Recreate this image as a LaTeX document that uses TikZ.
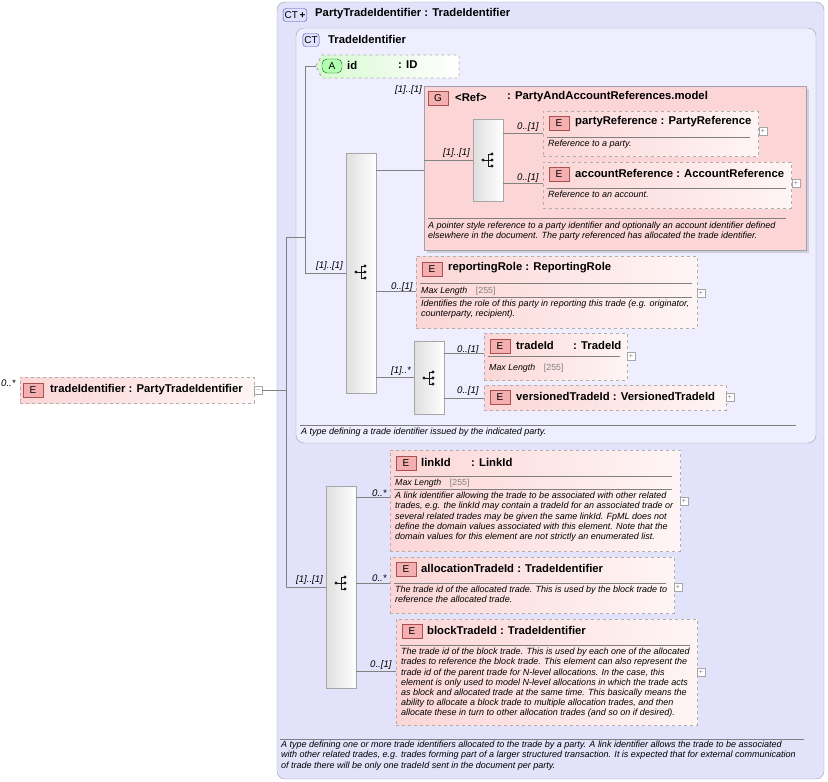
\documentclass[tikz,border=0pt]{standalone}
\usepackage{fontspec}
\setmainfont{Liberation Sans}
\usetikzlibrary{positioning,shadows}

\definecolor{ctfill}{RGB}{226,226,250}
\definecolor{ctline}{RGB}{160,160,175}
\definecolor{elpink}{RGB}{252,214,214}
\definecolor{badgefill}{RGB}{244,176,176}
\definecolor{badgeline}{RGB}{170,80,80}
\definecolor{attgreen}{RGB}{214,250,208}
\definecolor{dashgray}{RGB}{175,175,175}
\definecolor{wire}{RGB}{130,130,130}

\tikzset{
  ct/.style={draw=ctline, fill=ctfill, rounded corners=8pt},
  elem/.style={draw=dashgray, dashed, line width=0.9pt, left color=elpink, right color=elpink!25, anchor=north west, inner sep=0pt},
  grp/.style={draw=ctline, fill=elpink, anchor=north west, inner sep=0pt, drop shadow={shadow xshift=2.5pt, shadow yshift=-2.5pt, fill=gray!60}},
  seq/.style={draw=gray!70, left color=gray!25, right color=white, anchor=north west, inner sep=0pt, minimum width=30pt},
  badge/.style={draw=badgeline, fill=badgefill, minimum width=20pt, minimum height=14pt, inner sep=0pt, font=\fontsize{10}{10}\selectfont},
  ctbadge/.style={draw=gray!60!blue, fill=blue!12, rounded corners=3pt, minimum height=13pt, inner sep=1.5pt, font=\fontsize{10}{10}\selectfont},
  title/.style={anchor=west, inner sep=0pt, font=\fontsize{11.3}{12}\selectfont\bfseries},
  desc/.style={anchor=north west, inner sep=0pt, align=left, font=\fontsize{9}{10.2}\selectfont\itshape},
  mult/.style={anchor=west, inner sep=0pt, font=\fontsize{9.6}{10}\selectfont\itshape},
  maxl/.style={anchor=west, inner sep=0pt, font=\fontsize{8.8}{10}\selectfont\itshape},
  plus/.style={draw=gray!70, fill=white, minimum size=8pt, inner sep=0pt, font=\fontsize{7}{7}\selectfont, text=gray},
  conn/.style={draw=wire, line width=0.6pt},
  sep/.style={draw=gray, line width=0.5pt},
}
\newcommand{\seqicon}[2]{%
  \fill[gray!20!black] (#1-5,#2) circle (1.6pt);
  \draw[gray!20!black, line width=0.7pt] (#1-5,#2) -- (#1,#2) (#1,#2-6) -- (#1,#2+6) (#1,#2-6) -- (#1+4,#2-6) (#1,#2) -- (#1+4,#2) (#1,#2+6) -- (#1+4,#2+6);
  \fill[gray!20!black] (#1+4,#2-6) circle (1.6pt) (#1+4,#2) circle (1.6pt) (#1+4,#2+6) circle (1.6pt);}

\begin{document}
\begin{tikzpicture}[x=1pt,y=1pt,yscale=-1]
\useasboundingbox (0,0) rectangle (828,782);

% complex types
\path[ct] (277,2) rectangle (824,779);
\node[ctbadge] (ctouter) at (295,15) {CT\,\textbf{+}};
\node[title] (ptitle) at (315,14) {PartyTradeIdentifier : TradeIdentifier};
\path[ct, fill=ctfill!70!blue!18] (296,28) rectangle (816,443);
\node[ctbadge] (ctinner) at (311,40) {CT};
\node[title] (ttitle) at (328,39) {TradeIdentifier};

% root element
\node[mult] (rootm) at (1,383) {0..*};
\node[elem, minimum width=234pt, minimum height=26pt] (root) at (20,377) {};
\node[badge] (rootb) at (33,390) {E};
\node[title] (roott) at (50,390) {tradeIdentifier : PartyTradeIdentifier};
\node[plus] (rootp) at (258,390) {$-$};

% attribute
\path[draw=dashgray, dashed, line width=0.9pt, left color=attgreen, right color=white]
  (316,66) -- (322,55) -- (459,55) -- (459,78) -- (322,78) -- cycle;
\node[badge, draw=green!40!black, fill=green!30, rounded corners=5pt] (attb) at (332,66) {A};
\node[title] (attn) at (347,65) {id};
\node[title] (attt) at (398,65) {: ID};

% sequences
\node[seq, minimum height=240pt] (seqA) at (346,153) {};
\node[seq, minimum height=73pt] (seqC) at (414,341) {};
\node[seq, minimum height=202pt] (seqD) at (326,486) {};
\seqicon{361}{272}
\seqicon{429}{378}
\seqicon{341}{583}

% group
\node[grp, minimum width=382pt, minimum height=164pt] (grp) at (424,86) {};
\node[mult] at (395,90) {[1]..[1]};
\node[badge] (grpb) at (438,98) {G};
\node[title] at (455,97) {<Ref>};
\node[title] at (507,97) {: PartyAndAccountReferences.model};
\node[seq, minimum height=82pt] (seqB) at (473,119) {};
\seqicon{488}{160}
\node[mult] at (443,153) {[1]..[1]};
\draw[sep] (428,218) -- (786,218);
\node[desc] at (428,222) {A pointer style reference to a party identifier and optionally an account identifier defined\\elsewhere in the document. The party referenced has allocated the trade identifier.};

% partyReference
\node[elem, minimum width=215pt, minimum height=45pt] (pr) at (543,111) {};
\node[badge] at (559,123) {E};
\node[title] at (575,122) {partyReference : PartyReference};
\draw[sep] (547,137) -- (750,137);
\node[desc] at (548,140) {Reference to a party.};
\node[plus] at (763,131) {+};
\node[mult] at (517,127) {0..[1]};
% accountReference
\node[elem, minimum width=248pt, minimum height=46pt] (ar) at (543,162) {};
\node[badge] at (559,174) {E};
\node[title] at (575,173) {accountReference : AccountReference};
\draw[sep] (547,188) -- (786,188);
\node[desc] at (548,191) {Reference to an account.};
\node[plus] at (796,183) {+};
\node[mult] at (517,178) {0..[1]};

% reportingRole
\node[elem, minimum width=281pt, minimum height=72pt] (rr) at (416,256) {};
\node[badge] at (432,269) {E};
\node[title] at (448,268) {reportingRole : ReportingRole};
\draw[sep] (420,283) -- (692,283);
\node[maxl] at (421,291) {Max Length\quad{\upshape\color{gray}[255]}};
\draw[sep] (420,297) -- (692,297);
\node[desc] at (421,300) {Identifies the role of this party in reporting this trade (e.g. originator,\\counterparty, recipient).};
\node[plus] at (701,293) {+};
\node[mult] at (391,287) {0..[1]};
\node[mult] at (316,266) {[1]..[1]};
\node[mult] at (391,371) {[1]..*};

% tradeId
\node[elem, minimum width=143pt, minimum height=47pt] (tid) at (484,333) {};
\node[badge] at (500,346) {E};
\node[title] at (516,345) {tradeId};
\node[title] at (573,345) {: TradeId};
\draw[sep] (488,356) -- (620,356);
\node[maxl] at (489,368) {Max Length\quad{\upshape\color{gray}[255]}};
\node[plus] at (631,356) {+};
\node[mult] at (457,350) {0..[1]};
% versionedTradeId
\node[elem, minimum width=242pt, minimum height=25pt] (vid) at (484,385) {};
\node[badge] at (500,397) {E};
\node[title] at (516,396) {versionedTradeId : VersionedTradeId};
\node[plus] at (730,397) {+};
\node[mult] at (457,391) {0..[1]};

\draw[sep] (300,425) -- (796,425);
\node[desc] at (301,428) {A type defining a trade identifier issued by the indicated party.};

% linkId
\node[elem, minimum width=290pt, minimum height=101pt] (lid) at (390,450) {};
\node[badge] at (406,463) {E};
\node[title] at (421,462) {linkId};
\node[title] at (471,462) {: LinkId};
\draw[sep] (394,476) -- (672,476);
\node[maxl] at (395,483) {Max Length\quad{\upshape\color{gray}[255]}};
\draw[sep] (394,489) -- (672,489);
\node[desc] at (395,492) {A link identifier allowing the trade to be associated with other related\\trades, e.g. the linkId may contain a tradeId for an associated trade or\\several related trades may be given the same linkId. FpML does not\\define the domain values associated with this element. Note that the\\domain values for this element are not strictly an enumerated list.};
\node[plus] at (684,501) {+};
\node[mult] at (372,493) {0..*};
% allocationTradeId
\node[elem, minimum width=284pt, minimum height=56pt] (atid) at (390,557) {};
\node[badge] at (406,569) {E};
\node[title] at (421,568) {allocationTradeId : TradeIdentifier};
\draw[sep] (394,583) -- (666,583);
\node[desc] at (395,586) {The trade id of the allocated trade. This is used by the block trade to\\reference the allocated trade.};
\node[plus] at (678,587) {+};
\node[mult] at (372,578) {0..*};
% blockTradeId
\node[elem, minimum width=301pt, minimum height=106pt] (btid) at (396,619) {};
\node[badge] at (412,631) {E};
\node[title] at (427,630) {blockTradeId : TradeIdentifier};
\draw[sep] (400,645) -- (690,645);
\node[desc] at (401,648) {The trade id of the block trade. This is used by each one of the allocated\\trades to reference the block trade. This element can also represent the\\trade id of the parent trade for N-level allocations. In the case, this\\element is only used to model N-level allocations in which the trade acts\\as block and allocated trade at the same time. This basically means the\\ability to allocate a block trade to multiple allocation trades, and then\\allocate these in turn to other allocation trades (and so on if desired).};
\node[plus] at (701,672) {+};
\node[mult] at (370,665) {0..[1]};
\node[mult] at (296,580) {[1]..[1]};

\draw[sep] (280,739) -- (804,739);
\node[desc] at (281,741) {A type defining one or more trade identifiers allocated to the trade by a party. A link identifier allows the trade to be associated\\with other related trades, e.g. trades forming part of a larger structured transaction. It is expected that for external communication\\of trade there will be only one tradeId sent in the document per party.};

% connectors
\coordinate (jA) at (286,237);
\coordinate (jB) at (305,237);
\draw[conn] (rootp.east) -- (rootp.east -| jA);
\draw[conn] (jA) -- (jA |- seqD.west) -- (seqD.west);
\draw[conn] (jA) -- (jB);
\draw[conn] (jB |- attb.west) -- (jB |- seqA.west) -- (seqA.west);
\draw[conn] (jB |- attb.west) -- (316,66);
\draw[conn] (seqA.east |- 0,170) -- (grp.west |- 0,170);
\draw[conn] (grp.west |- seqB.west) -- (seqB.west);
\draw[conn] (seqB.east |- 0,133) -- (pr.west |- 0,133);
\draw[conn] (seqB.east |- 0,183) -- (ar.west |- 0,183);
\draw[conn] (seqA.east |- 0,291) -- (rr.west |- 0,291);
\draw[conn] (seqA.east |- seqC.west) -- (seqC.west);
\draw[conn] (seqC.east |- 0,353) -- (tid.west |- 0,353);
\draw[conn] (seqC.east |- vid.west) -- (vid.west);
\draw[conn] (seqD.east |- 0,497) -- (lid.west |- 0,497);
\draw[conn] (seqD.east |- 0,583) -- (atid.west |- 0,583);
\draw[conn] (seqD.east |- 0,671) -- (btid.west |- 0,671);
\end{tikzpicture}
\end{document}
